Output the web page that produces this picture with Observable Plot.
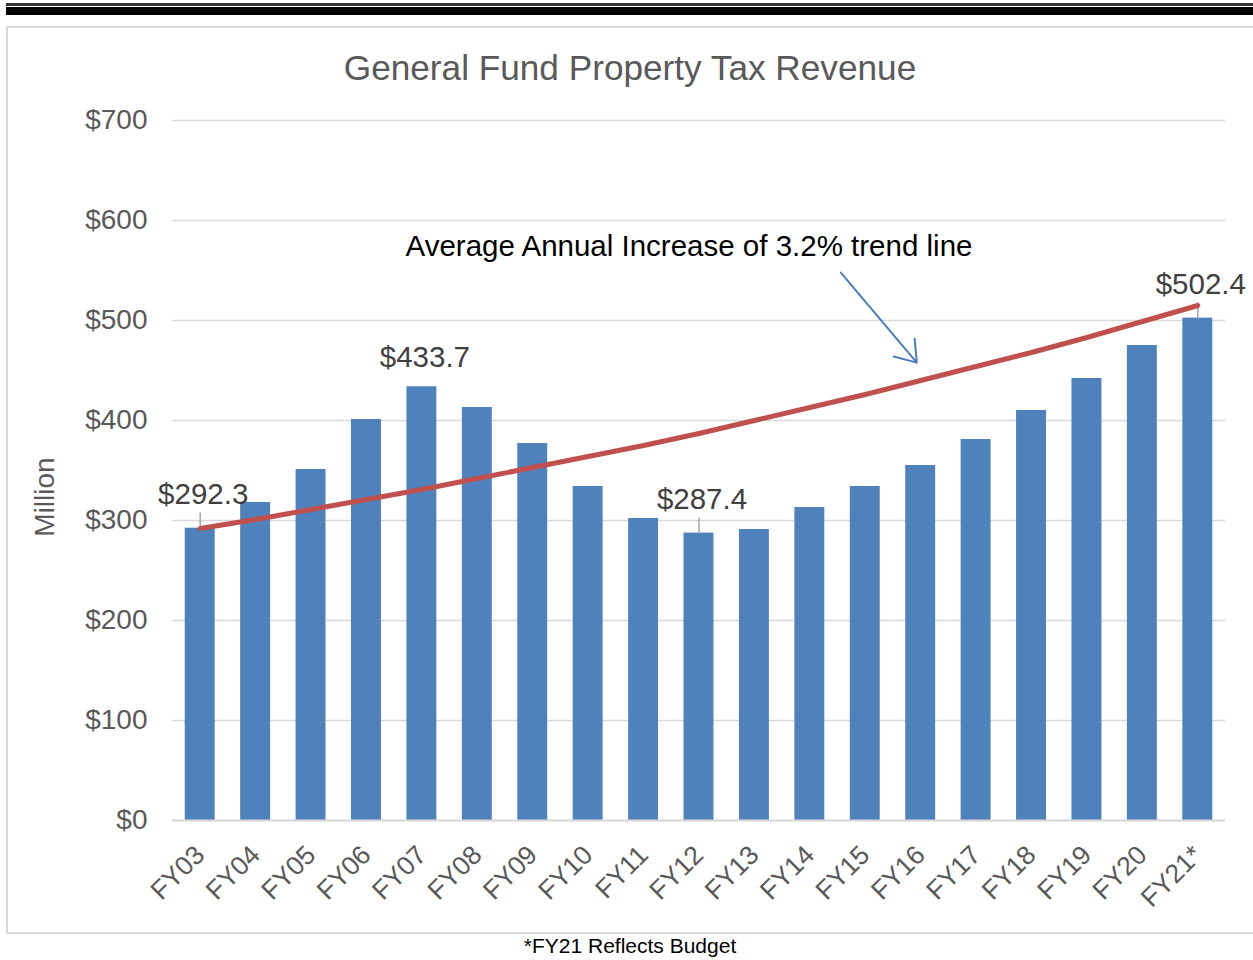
<!DOCTYPE html>
<html>
<head>
<meta charset="utf-8">
<script src="https://cdn.jsdelivr.net/npm/d3@7"></script>
<script src="https://cdn.jsdelivr.net/npm/@observablehq/plot@0.6"></script>
<style>
  body { margin: 0; background: #fff; font-family: "Liberation Sans", Arial, sans-serif; }
  #wrap { position: relative; width: 1253px; height: 960px; overflow: hidden; background: #fff; }
  .thin { position: absolute; left: 6px; top: 3px; width: 1260px; height: 3px; background: #333; }
  .thick { position: absolute; left: 6px; top: 7px; width: 1260px; height: 8px; background: #000; }
  .box { position: absolute; left: 6px; top: 26px; width: 1270px; height: 904px; border: 2px solid #d9d9d9; }
  #chart { position: absolute; left: 0; top: 0; }
  .title { position: absolute; left: 630px; top: 50px; transform: translateX(-50%); font-size: 35.2px; line-height: 35px; color: #595959; white-space: nowrap; }
  .ylabel { position: absolute; left: 45px; top: 497px; transform: translate(-50%, -50%) rotate(-90deg); font-size: 28px; line-height: 28px; color: #595959; white-space: nowrap; }
  .caption { position: absolute; left: 630px; top: 935px; transform: translateX(-50%); font-size: 21px; line-height: 21px; color: #000; white-space: nowrap; }
</style>
</head>
<body>
<div id="wrap">
  <div class="thin"></div>
  <div class="thick"></div>
  <div class="box"></div>
  <div id="chart"></div>
  <div class="title">General Fund Property Tax Revenue</div>
  <div class="ylabel">Million</div>
  <div class="caption">*FY21 Reflects Budget</div>
</div>
<script>
// Categories
const years = ["FY03","FY04","FY05","FY06","FY07","FY08","FY09","FY10","FY11","FY12",
               "FY13","FY14","FY15","FY16","FY17","FY18","FY19","FY20","FY21*"];
// Revenue ($ million)
const revenue = [292.3, 318, 351, 401, 433.7, 413, 377, 334, 302, 287.4,
                 291, 313, 334, 355, 381, 410, 442, 475, 502.4];
// Trend line values ($ million)
const trend = [292, 301, 311, 321, 331, 342, 353, 364, 375, 387,
               400, 413, 426, 440, 454, 468, 483, 499, 515];
// Y ticks
const yTicks = [0, 100, 200, 300, 400, 500, 600, 700];
// Data labels
const labelYears = ["FY03", "FY07", "FY12", "FY21*"];
const labelValues = [292.3, 433.7, 287.4, 502.4];
// Leader lines under labels
const leaderYears = ["FY03", "FY12", "FY21*"];
const leaderValues = [292.3, 287.4, 502.4];
// Annotation
const noteText = ["Average Annual Increase of 3.2% trend line"];
const noteYear = ["FY12"];
const noteValue = [574];
const arrowFromYear = ["FY14"];
const arrowToYear = ["FY16"];
const arrowFromValue = [584.6];
const arrowToValue = [453.3];

const data = years.map((fy, i) => ({fy, value: revenue[i], trend: trend[i]}));
const labels = labelYears.map((fy, i) => ({fy, value: labelValues[i], text: "$" + labelValues[i].toFixed(1)}));
const leaders = leaderYears.map((fy, i) => ({fy, value: leaderValues[i]}));
const notes = noteText.map((t, i) => ({fy: noteYear[i], value: noteValue[i], text: t}));
const arrows = arrowFromYear.map((fy, i) => ({x1: fy, x2: arrowToYear[i], y1: arrowFromValue[i], y2: arrowToValue[i]}));

const lineShape = { draw(context, l) { context.moveTo(0, 0); context.lineTo(0, -l); } };

const font = '"Liberation Sans", Arial, sans-serif';

const chart = Plot.plot({
  width: 1253,
  height: 935,
  marginTop: 120,
  marginBottom: 115,
  marginLeft: 172,
  marginRight: 28,
  style: { fontFamily: font, background: "transparent", color: "#595959", overflow: "visible" },
  x: { domain: years, paddingInner: 0.46, paddingOuter: 0.23, round: false, label: null },
  y: { domain: [0, 700], label: null },
  marks: [
    Plot.gridY(yTicks, { stroke: "#d9d9d9", strokeOpacity: 1, strokeWidth: 1.5 }),
    Plot.barY(data, { x: "fy", y: "value", fill: "#4F81BD" }),
    Plot.ruleY([0], { stroke: "#d9d9d9", strokeWidth: 2 }),
    Plot.vector(leaders, { x: "fy", y: "value", length: 15, rotate: 0, anchor: "start", shape: lineShape, stroke: "#a6a6a6", strokeWidth: 1.5 }),
    Plot.line(data, { x: "fy", y: "trend", stroke: "#C0504D", strokeWidth: 5, strokeLinecap: "round" }),
    Plot.text(labels.filter(d => d.fy !== "FY07"), { x: "fy", y: "value", text: "text", dy: -34, dx: 3, fontSize: 29.5, fill: "#404040" }),
    Plot.text(labels.filter(d => d.fy === "FY07"), { x: "fy", y: "value", text: "text", dy: -29, dx: 3, fontSize: 29.5, fill: "#404040" }),
    Plot.text(notes, { x: "fy", y: "value", text: "text", dx: -10, fontSize: 29.5, fill: "#000" }),
    Plot.arrow(arrows, { x1: "x1", y1: "y1", x2: "x2", y2: "y2", insetStart: 48, insetEnd: 6, stroke: "#4A7EBB", strokeWidth: 2, headLength: 18, headAngle: 70 }),
    Plot.axisY(yTicks, { tickSize: 0, tickPadding: 25, fontSize: 28, tickFormat: d => "$" + d, fill: "#595959" }),
    Plot.axisX({ tickSize: 0, tickRotate: -45, fontSize: 26.5, tickPadding: 30, fill: "#595959" })
  ]
});
document.getElementById("chart").appendChild(chart);
</script>
</body>
</html>
